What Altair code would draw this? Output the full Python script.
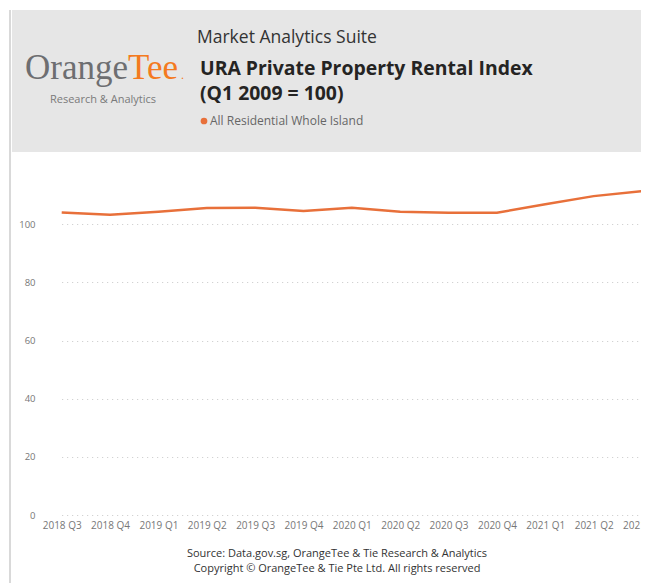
import altair as alt
import pandas as pd

quarters = ["2018 Q3", "2018 Q4", "2019 Q1", "2019 Q2", "2019 Q3", "2019 Q4",
            "2020 Q1", "2020 Q2", "2020 Q3", "2020 Q4", "2021 Q1", "2021 Q2", "2021 Q3"]
index_values = [104.1, 103.3, 104.3, 105.6, 105.7, 104.6,
                105.7, 104.3, 104.0, 104.0, 106.9, 109.7, 111.4]
y_ticks = [0, 20, 40, 60, 80, 100]

series_name = "All Residential Whole Island"
suite_text = "Market Analytics Suite"
title_1 = "URA Private Property Rental Index"
title_2 = "(Q1 2009 = 100)"
footer_1 = "Source: Data.gov.sg, OrangeTee & Tie Research & Analytics"
footer_2 = "Copyright \u00a9 OrangeTee & Tie Pte Ltd. All rights reserved"

df = pd.DataFrame({"Quarter": quarters, "Index": index_values})

FONT = "Open Sans"
ORANGE = "#E8703A"
W, H = 598, 343


def one():
    return alt.Chart(pd.DataFrame({"t": [""]}))


def label(text, x, y, size, color, weight="normal", align="left", font=FONT):
    return alt.Chart(pd.DataFrame({"t": [text]})).mark_text(
        align=align, baseline="alphabetic", fontSize=size, color=color,
        fontWeight=weight, font=font
    ).encode(x=alt.value(x), y=alt.value(y), text="t:N")


header = one().mark_rect(color="#e6e6e6").encode(
    x=alt.value(-31), x2=alt.value(W), y=alt.value(-162), y2=alt.value(-20)
)
shadow = one().mark_rule(color="#d9d9d9", strokeWidth=2).encode(
    x=alt.value(-33), y=alt.value(-162), y2=alt.value(411)
)

logo_a = label("Orange", 85, -93, 35, "#6D6E71", align="right", font="Liberation Serif")
logo_b = label("Tee", 85, -93, 35, "#F47A20", align="left", font="Liberation Serif")
logo_dot = label(".", 138, -93, 12, "#F47A20", font="Liberation Serif")
logo_sub = label("Research & Analytics", 60, -69, 11, "#7a7a7a", align="center")

suite = label(suite_text, 154, -129, 17.5, "#333333")
t1 = label(title_1, 157, -97, 19.4, "#252423", weight="bold")
t2 = label(title_2, 157, -72, 19.4, "#252423", weight="bold")

legend_dot = alt.Chart(pd.DataFrame({"s": [series_name]})).mark_point(
    filled=True, size=45, color=ORANGE, opacity=1
).encode(x=alt.value(161), y=alt.value(-51))
legend_txt = label(series_name, 167, -47, 12, "#666666")

f1 = label(footer_1, 294, 385, 11, "#333333", align="center")
f2 = label(footer_2, 294, 400, 11, "#333333", align="center")

line = alt.Chart(df).mark_line(color=ORANGE, strokeWidth=2.5).encode(
    x=alt.X("Quarter:N", sort=quarters,
            scale=alt.Scale(type="point", range=[18.7, 599], padding=0),
            axis=alt.Axis(title=None, labelFontSize=10, labelColor="#777777",
                          ticks=False, domain=False, labelAngle=0, labelPadding=5,
                          grid=False, labelFont=FONT)),
    y=alt.Y("Index:Q", scale=alt.Scale(domain=[0, 118], nice=False, zero=True),
            axis=alt.Axis(title=None, values=y_ticks, grid=True, gridDash=[1, 4],
                          gridColor="#c8c8c8", ticks=False, domain=False,
                          labelFontSize=9.5, labelColor="#777777", labelPadding=8,
                          labelFont=FONT)),
)

chart = alt.layer(
    header, shadow, logo_a, logo_b, logo_dot, logo_sub, suite, t1, t2,
    legend_dot, legend_txt, line, f1, f2
).properties(
    width=W, height=H,
    autosize=alt.AutoSizeParams(type="none"),
    padding={"left": 35, "top": 164, "right": 0, "bottom": 68},
    background="white",
).configure_view(stroke=None)

chart.save("out.html", embed_options={"renderer": "svg", "actions": False})
